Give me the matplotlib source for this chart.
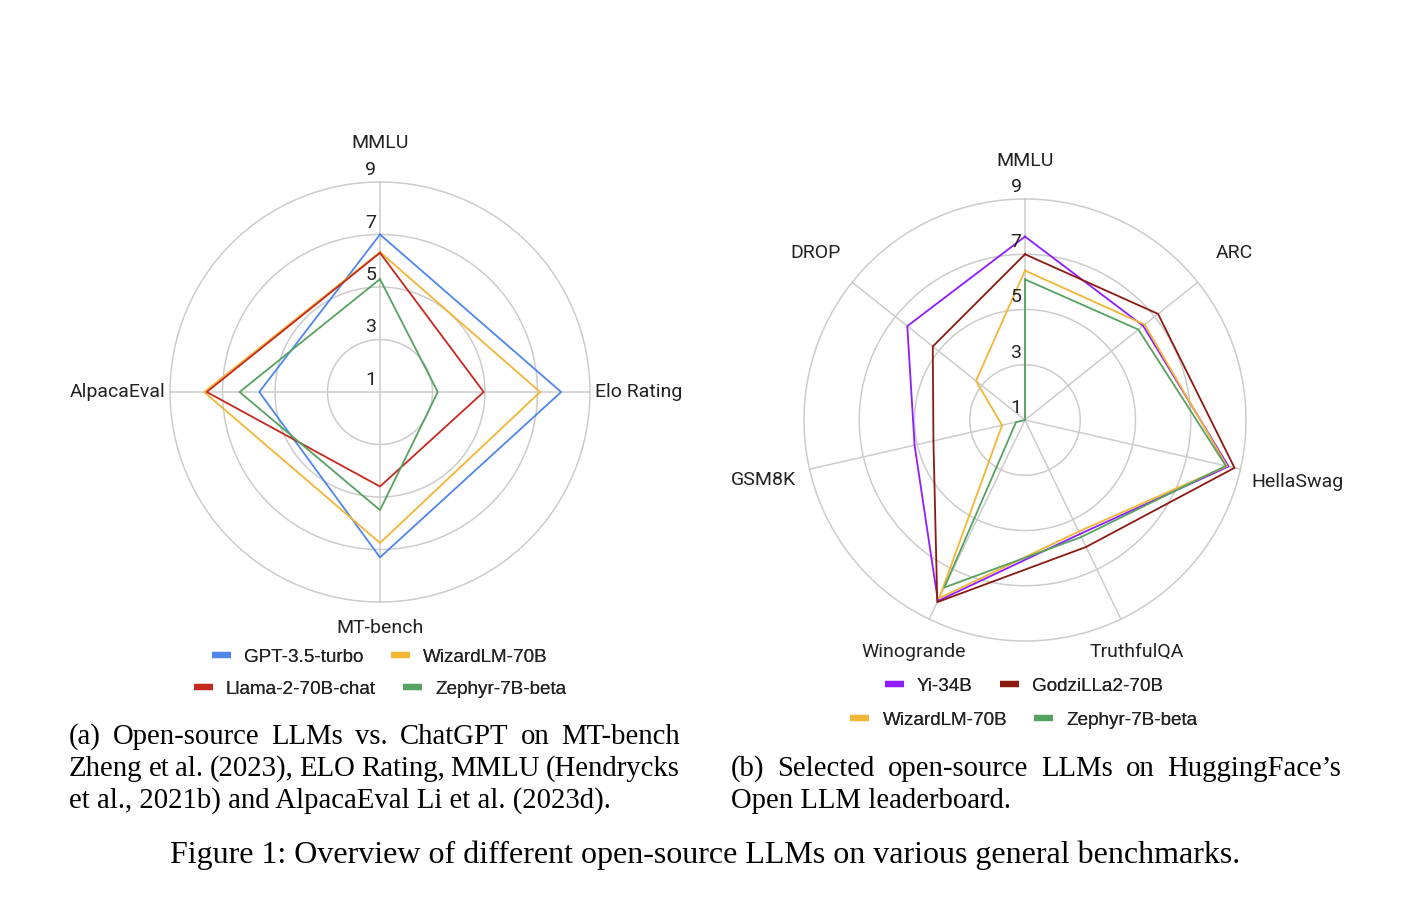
import numpy as np
import matplotlib
matplotlib.use("Agg")
import matplotlib.pyplot as plt
from matplotlib.lines import Line2D

# ---- data ----
left_axes = ["MMLU", "Elo Rating", "MT-bench", "AlpacaEval"]
gpt35 = [7.0, 7.9, 7.3, 5.6]
wizard_a = [6.33, 7.1, 6.75, 7.7]
llama2 = [6.3, 4.95, 4.6, 7.6]
zephyr_a = [5.3, 3.2, 5.5, 6.35]

right_axes = ["MMLU", "ARC", "HellaSwag", "TruthfulQA", "Winogrande", "GSM8K", "DROP"]
yi34 = [7.64, 6.47, 8.56, 5.58, 8.27, 5.1, 6.45]
godzilla = [7.0, 7.16, 8.78, 6.1, 8.32, 4.4, 5.27]
wizard_b = [6.41, 6.54, 8.5, 5.48, 8.16, 1.85, 3.27]
zephyr_b = [6.09, 6.25, 8.46, 5.7, 7.73, 1.33, 1.0]

r_ticks = [1, 3, 5, 7, 9]

BLUE, YELLOW, RED, GREEN = "#4f86ec", "#f2b534", "#c4281e", "#55a261"
PURPLE, DARKRED = "#8f1bff", "#8b1a10"
GRID = "#cccccc"

W, H = 1404, 914
fig = plt.figure(figsize=(W / 100, H / 100), dpi=100)
fig.patch.set_facecolor("white")

AX_FONT = dict(family="Roboto", fontsize=14, color="#222222")


def radar(center, radius, labels, series, label_r, label_align):
    cx, cy = center
    ax = fig.add_axes([(cx - radius) / W, (H - cy - radius) / H,
                       2 * radius / W, 2 * radius / H], projection="polar")
    ax.set_theta_zero_location("N")
    ax.set_theta_direction(-1)
    ax.set_ylim(1, 9)
    ax.grid(False)
    ax.set_xticks([])
    ax.set_yticks([])
    ax.spines["polar"].set_visible(False)
    ax.patch.set_alpha(0)

    n = len(labels)
    theta = np.arange(n) * 2 * np.pi / n
    fine = np.linspace(0, 2 * np.pi, 400)
    for v in r_ticks[1:]:
        ax.plot(fine, np.full_like(fine, v), color=GRID, lw=1.1, zorder=1, clip_on=False)
    for th in theta:
        ax.plot([th, th], [1, 9], color=GRID, lw=1.1, zorder=1, clip_on=False)

    for vals, color, name in series:
        ax.plot(np.append(theta, theta[0]), vals + vals[:1], color=color,
                lw=1.3, zorder=3, label=name, clip_on=False)

    for v in r_ticks:
        ax.annotate(str(v), xy=(0, v), xytext=(-9, 12), textcoords="offset pixels",
                    ha="center", va="center", zorder=4, **AX_FONT)

    for th, lab, rl, ha in zip(theta, labels, label_r, label_align):
        ax.text(th, 9 + rl / radius * 8, lab, ha=ha, va="center",
                clip_on=False, **AX_FONT)
    return ax


radar((380, 392), 210, left_axes,
      [(gpt35, BLUE, "GPT-3.5-turbo"), (wizard_a, YELLOW, "WizardLM-70B"),
       (llama2, RED, "Llama-2-70B-chat"), (zephyr_a, GREEN, "Zephyr-7B-beta")],
      [39, 5, 26, 4], ["center", "left", "center", "right"])

radar((1025, 420), 221, right_axes,
      [(yi34, PURPLE, "Yi-34B"), (godzilla, DARKRED, "GodziLLa2-70B"),
       (wizard_b, YELLOW, "WizardLM-70B"), (zephyr_b, GREEN, "Zephyr-7B-beta")],
      [38, 47, 58, 36, 36, 47, 47], ["center"] * 7)


def legend_row(items, cx, cy):
    handles = [Line2D([], [], color=c, lw=4.5, solid_capstyle="butt") for c, _ in items]
    leg = fig.legend(handles, [t for _, t in items], loc="center",
                     bbox_to_anchor=(cx / W, 1 - cy / H), ncol=len(items),
                     frameon=False, handlelength=1.0, handletextpad=0.7,
                     columnspacing=1.45, borderaxespad=0, borderpad=0,
                     prop=dict(family="Liberation Sans", size=13.6))
    for t in leg.get_texts():
        t.set_color("#222222")
    fig.add_artist(leg)


legend_row([(BLUE, "GPT-3.5-turbo"), (YELLOW, "WizardLM-70B")], 380, 657)
legend_row([(RED, "Llama-2-70B-chat"), (GREEN, "Zephyr-7B-beta")], 380, 689)
legend_row([(PURPLE, "Yi-34B"), (DARKRED, "GodziLLa2-70B")], 1024, 686)
legend_row([(YELLOW, "WizardLM-70B"), (GREEN, "Zephyr-7B-beta")], 1024, 720)

# ---- captions ----
SUB = dict(family="Liberation Serif", fontsize=20.7, color="black", va="baseline")
CAP = dict(SUB, fontsize=23)
renderer = fig.canvas.get_renderer()


def justified(line, x0, x1, y):
    words = line.split()
    texts = [fig.text(0, 1 - y / H, w, **SUB) for w in words]
    widths = [t.get_window_extent(renderer).width for t in texts]
    gap = max((x1 - x0 - sum(widths)) / (len(words) - 1), 3)
    x = x0
    for t, w in zip(texts, widths):
        t.set_x(x / W)
        x += w + gap


justified("(a) Open-source LLMs vs. ChatGPT on MT-bench", 69, 680, 744)
justified("Zheng et al. (2023), ELO Rating, MMLU (Hendrycks", 69, 680, 776)
fig.text(69 / W, 1 - 808 / H, "et al., 2021b) and AlpacaEval Li et al. (2023d).", **SUB)
justified("(b) Selected open-source LLMs on HuggingFace\u2019s", 731, 1341, 776)
fig.text(731 / W, 1 - 808 / H, "Open LLM leaderboard.", **SUB)
fig.text(705 / W, 1 - 863 / H,
         "Figure 1: Overview of different open-source LLMs on various general benchmarks.",
         ha="center", **CAP)

fig.savefig("out.png", dpi=100)
